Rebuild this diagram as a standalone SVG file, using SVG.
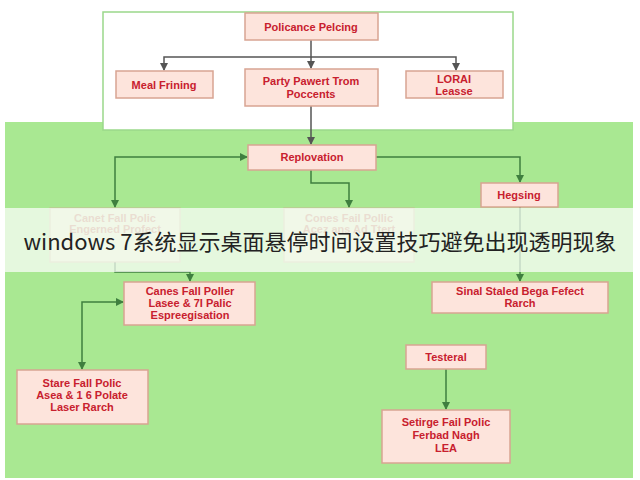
<svg xmlns="http://www.w3.org/2000/svg" width="640" height="480" viewBox="0 0 640 480">
<defs>
<marker id="ag" markerWidth="8" markerHeight="8" refX="7" refY="4" orient="auto-start-reverse" markerUnits="userSpaceOnUse"><path d="M0,0 L8,4 L0,8 z" fill="#3f7f3f"/></marker>
<marker id="ak" markerWidth="8" markerHeight="8" refX="7" refY="4" orient="auto" markerUnits="userSpaceOnUse"><path d="M0,0 L8,4 L0,8 z" fill="#555"/></marker>
</defs>
<style>
.n rect{fill:#fde4dc;stroke:#d8a492;stroke-width:1.5}
.n text{font-family:"Liberation Sans",Arial,sans-serif;font-weight:bold;font-size:11px;fill:#c8202e;text-anchor:middle}
.c{fill:none;stroke:#3f7f3f;stroke-width:1.5;marker-end:url(#ag)}
.b{marker-start:url(#ag)}
.k{fill:none;stroke:#555;stroke-width:1.5;marker-end:url(#ak)}
.f{opacity:0.45}
</style>
<rect width="640" height="480" fill="#fff"/>
<rect x="5" y="122" width="628" height="356" fill="#a9e892"/>
<rect x="103" y="12" width="410" height="118" fill="#fff" stroke="#9ad88a" stroke-width="1.5"/>
<g id="connectors">
<path class="k" d="M311,40 V57 H164 V70"/>
<path class="k" d="M311,57 V68"/>
<path class="k" d="M311,57 H456 V70"/>
<path class="k" d="M311,106 V144"/>
<path class="c b" d="M115,207 V157 H247"/>
<path class="c" d="M311,170 V183 H349 V207"/>
<path class="c" d="M376,157 H520 V182"/>
<path class="c" d="M115,262 V272 H190 V281"/>
<path class="c" d="M520,207 V281"/>
<path class="c b" d="M123,302 H82 V369"/>
<path class="c" d="M446,369 V409"/>
</g>
<g id="n1" class="n"><rect x="245" y="13" width="133" height="27"/><text x="311" y="31">Policance Pelcing</text></g>
<g id="n2" class="n"><rect x="116" y="71" width="97" height="27"/><text x="164" y="89">Meal Frining</text></g>
<g id="n3" class="n"><rect x="245" y="69" width="133" height="37"/><text x="311" y="85">Party Pawert Trom</text><text x="311" y="98">Poccents</text></g>
<g id="n4" class="n"><rect x="406" y="71" width="97" height="27"/><text x="454" y="83">LORAI</text><text x="454" y="95">Leasse</text></g>
<g id="n5" class="n"><rect x="248" y="145" width="128" height="25"/><text x="312" y="161">Replovation</text></g>
<g id="n6" class="n"><rect x="481" y="183" width="77" height="24"/><text x="519" y="199">Hegsing</text></g>
<g id="n7" class="n f"><rect x="50" y="208" width="130" height="54"/><text x="115" y="222">Canet Fall Polic</text><text x="115" y="233">Engerned Profect</text></g>
<g id="n8" class="n f"><rect x="284" y="208" width="130" height="54"/><text x="349" y="222">Cones Fail Pollic</text><text x="349" y="233">Acez ans Ad Ttert</text></g>
<rect x="5" y="208" width="628" height="64" fill="#fff" opacity="0.7"/>
<text x="320" y="250" font-family="'Noto Sans CJK SC','Noto Sans',sans-serif" font-size="22" fill="#222" text-anchor="middle">windows 7系统显示桌面悬停时间设置技巧避免出现透明现象</text>
<g id="n9" class="n"><rect x="124" y="282" width="131" height="43"/><text x="190" y="295">Canes Fall Poller</text><text x="190" y="307">Lasee &amp; 7I Palic</text><text x="190" y="319">Espreegisation</text></g>
<g id="n10" class="n"><rect x="432" y="282" width="176" height="31"/><text x="520" y="295">Sinal Staled Bega Fefect</text><text x="520" y="307">Rarch</text></g>
<g id="n11" class="n"><rect x="17" y="370" width="131" height="54"/><text x="82" y="387">Stare Fall Polic</text><text x="82" y="399">Asea &amp; 1 6 Polate</text><text x="82" y="411">Laser Rarch</text></g>
<g id="n12" class="n"><rect x="406" y="345" width="80" height="24"/><text x="446" y="361">Testeral</text></g>
<g id="n13" class="n"><rect x="382" y="410" width="128" height="53"/><text x="446" y="426">Setirge Fail Polic</text><text x="446" y="439">Ferbad Nagh</text><text x="446" y="452">LEA</text></g>
</svg>
